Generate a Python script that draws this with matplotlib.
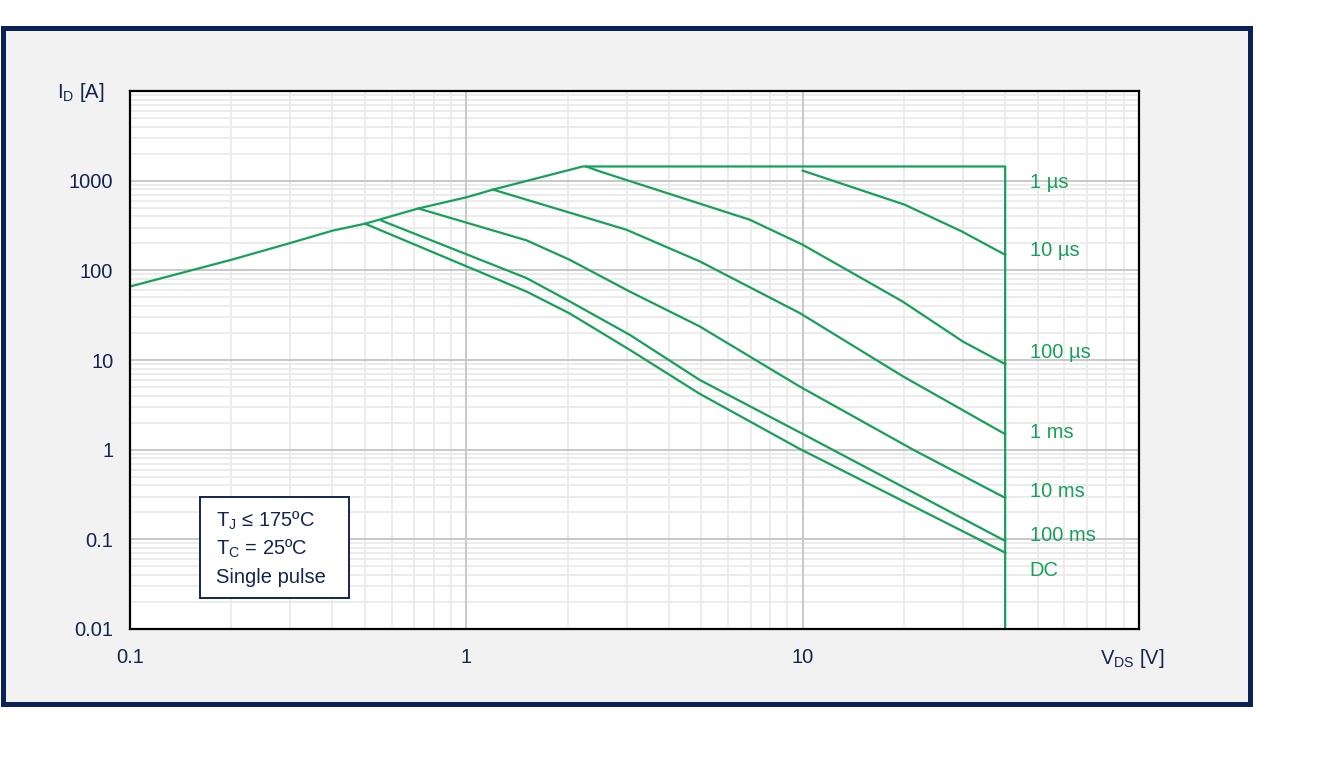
import matplotlib
matplotlib.use("Agg")
import matplotlib.pyplot as plt
from matplotlib.patches import Rectangle
from matplotlib.ticker import LogLocator, NullFormatter

plt.rcParams['font.family'] = ['Liberation Sans', 'DejaVu Sans']
plt.rcParams['mathtext.fontset'] = 'custom'
plt.rcParams['mathtext.rm'] = 'Liberation Sans'
plt.rcParams['mathtext.it'] = 'Liberation Sans'
plt.rcParams['mathtext.default'] = 'regular'

# safe operating area
env_v = [0.1, 0.2, 0.3, 0.4, 0.5, 0.72, 1.0, 1.2, 2.22, 40, 40]
env_i = [66, 131, 202, 277, 331, 490, 652, 795, 1440, 1440, 0.01]

v_10us = [10, 20.1, 29.7, 40]
i_10us = [1293, 540, 272, 149]

v_100us = [2.27, 2.49, 6.96, 10, 19.8, 30, 40]
i_100us = [1440, 1270, 367, 193, 45, 16, 9.0]

v_1ms = [1.2, 2.99, 4.94, 9.8, 19.9, 40]
i_1ms = [795, 284, 126, 33.4, 6.55, 1.49]

v_10ms = [0.72, 1.51, 2.03, 3.06, 4.94, 9.8, 21.3, 40]
i_10ms = [490, 216, 131, 58, 23.7, 5.06, 1.0, 0.29]

v_100ms = [0.56, 1.51, 2.03, 3.06, 4.94, 9.8, 40]
i_100ms = [358, 82, 45, 19.1, 6.0, 1.56, 0.096]

v_dc = [0.5, 1.51, 2.03, 3.06, 4.94, 9.8, 40]
i_dc = [331, 58, 33, 13, 4.2, 1.02, 0.071]

labels = ["1 µs", "10 µs", "100 µs", "1 ms", "10 ms", "100 ms", "DC"]
label_i = [960, 168, 12.0, 1.55, 0.34, 0.11, 0.045]
label_v = 47.3

xticks = [0.1, 1, 10]
xticklabels = ["0.1", "1", "10"]
yticks = [0.01, 0.1, 1, 10, 100, 1000]
yticklabels = ["0.01", "0.1", "1", "10", "100", "1000"]
major_x = [0.1, 1, 10, 100]
major_y = [0.01, 0.1, 1, 10, 100, 1000, 10000]

green = '#17a05b'
navy = '#13254f'
border = '#0a2159'
fs = 14.5

fig = plt.figure(figsize=(13.29, 7.67), dpi=100)
fig.patch.set_facecolor('white')
W, H = 1329, 767
frame = Rectangle((2.5 / W, 1 - 703.5 / H), (1249.5 - 2.5) / W, (703.5 - 27.5) / H,
                  transform=fig.transFigure, facecolor='#f2f2f2',
                  edgecolor=border, linewidth=3.6, zorder=-10)
fig.patches.append(frame)

ax = fig.add_axes([130 / W, 1 - 629 / H, (1139 - 130) / W, (629 - 91) / H])
ax.set_zorder(1)
ax.set_facecolor('white')
ax.set_xscale('log')
ax.set_yscale('log')
ax.set_xlim(0.1, 100)
ax.set_ylim(0.01, 10000)

ax.xaxis.set_minor_locator(LogLocator(base=10, subs=range(2, 10), numticks=10))
ax.yaxis.set_minor_locator(LogLocator(base=10, subs=range(2, 10), numticks=10))
ax.xaxis.set_minor_formatter(NullFormatter())
ax.yaxis.set_minor_formatter(NullFormatter())
ax.grid(True, which='minor', color='#ebebeb', linewidth=1.3)
ax.set_axisbelow(True)
# major grid lines on top of the minor ones
for v in major_x:
    ax.axvline(v, color='#c8c8c8', linewidth=1.4, zorder=0.8)
for v in major_y:
    ax.axhline(v, color='#c8c8c8', linewidth=1.4, zorder=0.8)

ax.set_xticks(xticks)
ax.set_xticklabels(xticklabels)
ax.set_yticks(yticks)
ax.set_yticklabels(yticklabels)
ax.tick_params(which='both', length=0, labelsize=fs, colors=navy)
ax.tick_params(axis='x', pad=14)
ax.tick_params(axis='y', pad=12)
for s in ax.spines.values():
    s.set_color('black')
    s.set_linewidth(1.6)
    s.set_zorder(3)

lw = 1.6
ax.plot(env_v, env_i, color=green, lw=lw, zorder=2)
ax.plot(v_10us, i_10us, color=green, lw=lw, zorder=2)
ax.plot(v_100us, i_100us, color=green, lw=lw, zorder=2)
ax.plot(v_1ms, i_1ms, color=green, lw=lw, zorder=2)
ax.plot(v_10ms, i_10ms, color=green, lw=lw, zorder=2)
ax.plot(v_100ms, i_100ms, color=green, lw=lw, zorder=2)
ax.plot(v_dc, i_dc, color=green, lw=lw, zorder=2)

for t, yi in zip(labels, label_i):
    ax.text(label_v, yi, t, color=green, fontsize=fs, ha='left', va='center')

# condition box
ax.add_patch(Rectangle((0.0694, 0.0576), 0.217 - 0.0694, 0.2454 - 0.0576,
                       transform=ax.transAxes, facecolor='white', edgecolor=navy,
                       linewidth=1.4, zorder=5))
box_lines = ["T$_{J}$ ≤ 175ºC", "T$_{C}$ = 25ºC", "Single pulse"]
for t, yy in zip(box_lines, [0.2007, 0.1487, 0.0948]):
    ax.text(0.0852, yy, t, transform=ax.transAxes, fontsize=fs, color=navy,
            ha='left', va='center', zorder=6)

fig.text(104 / W, 1 - 92 / H, "I$_{D}$ [A]", fontsize=fs, color=navy, ha='right', va='center')
fig.text(1100 / W, 1 - 658 / H, "V$_{DS}$ [V]", fontsize=fs, color=navy, ha='left', va='center')

fig.savefig('out.png', dpi=100)
